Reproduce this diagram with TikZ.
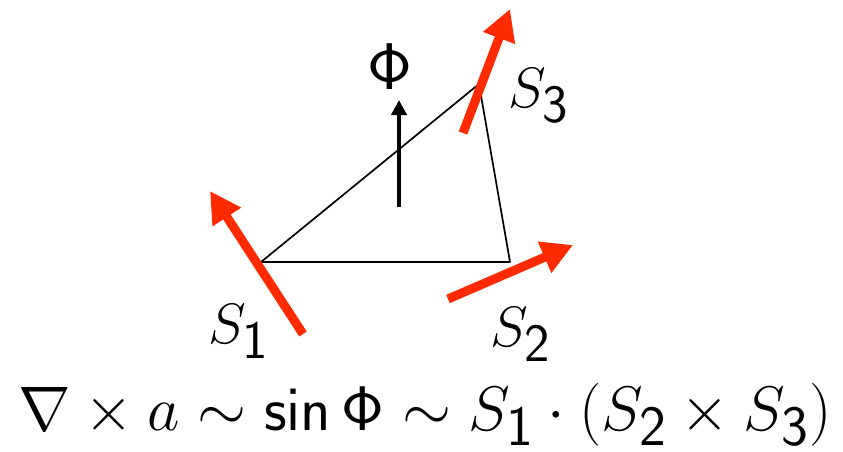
\RequirePackage{fix-cm}
\documentclass[tikz,border=0pt]{standalone}
\usetikzlibrary{arrows.meta}
\DeclareMathSizes{63}{63}{57}{44}
\DeclareMathSizes{57}{57}{54}{42}
\DeclareMathSizes{66}{66}{58}{46}
\definecolor{spinred}{RGB}{255,42,0}
\tikzset{
  edge/.style={line width=1.7pt, line join=round},
  spin/.style={spinred, line width=9pt, -{Triangle[length=31pt,width=32pt]}},
  flux/.style={black, line width=4.5pt, -{Triangle[length=15pt,width=15pt]}},
  lab/.style={inner sep=0pt, font=\fontsize{57}{64}\selectfont},
  phil/.style={inner sep=0pt, font=\fontsize{66}{72}\selectfont},
  eqlab/.style={inner sep=0pt, font=\fontsize{63}{70}\selectfont},
}
\begin{document}
\begin{tikzpicture}[x=1pt,y=-1pt]
\useasboundingbox (0,0) rectangle (843,452);
% triangle vertices
\coordinate (v1) at (261,262);
\coordinate (v2) at (510,262);
\coordinate (v3) at (479,84);
\draw[edge] (v1) -- (v2) -- (v3) -- cycle;
% flux arrow
\coordinate (f0) at (399,207);
\coordinate (f1) at (399,100);
\draw[flux] (f0) -- (f1);
\node[phil, anchor=base] (phi) at (390,89) {$\mathsf{\Phi}$};
% spins
\coordinate (a1) at (303,334);
\coordinate (b1) at (210,191);
\coordinate (a2) at (448,299);
\coordinate (b2) at (573,245);
\coordinate (a3) at (463,133);
\coordinate (b3) at (510,9);
\draw[spin] (a1) -- (b1);
\draw[spin] (a2) -- (b2);
\draw[spin] (a3) -- (b3);
% labels
\node[lab, anchor=base west] (s1) at (208,343) {$S_{\mathsf{1}}$};
\node[lab, anchor=base west] (s2) at (490,346) {$S_{\mathsf{2}}$};
\node[lab, anchor=base west] (s3) at (508,107) {$S_{\mathsf{3}}$};
\node[eqlab, anchor=base west] (eq) at (18,430) {$\nabla\times a\sim\mathsf{sin}\,\mathsf{\Phi}\sim S_{\mathsf{1}}\cdot\mathsf{(}S_{\mathsf{2}}\times S_{\mathsf{3}}\mathsf{)}$};
\end{tikzpicture}
\end{document}
